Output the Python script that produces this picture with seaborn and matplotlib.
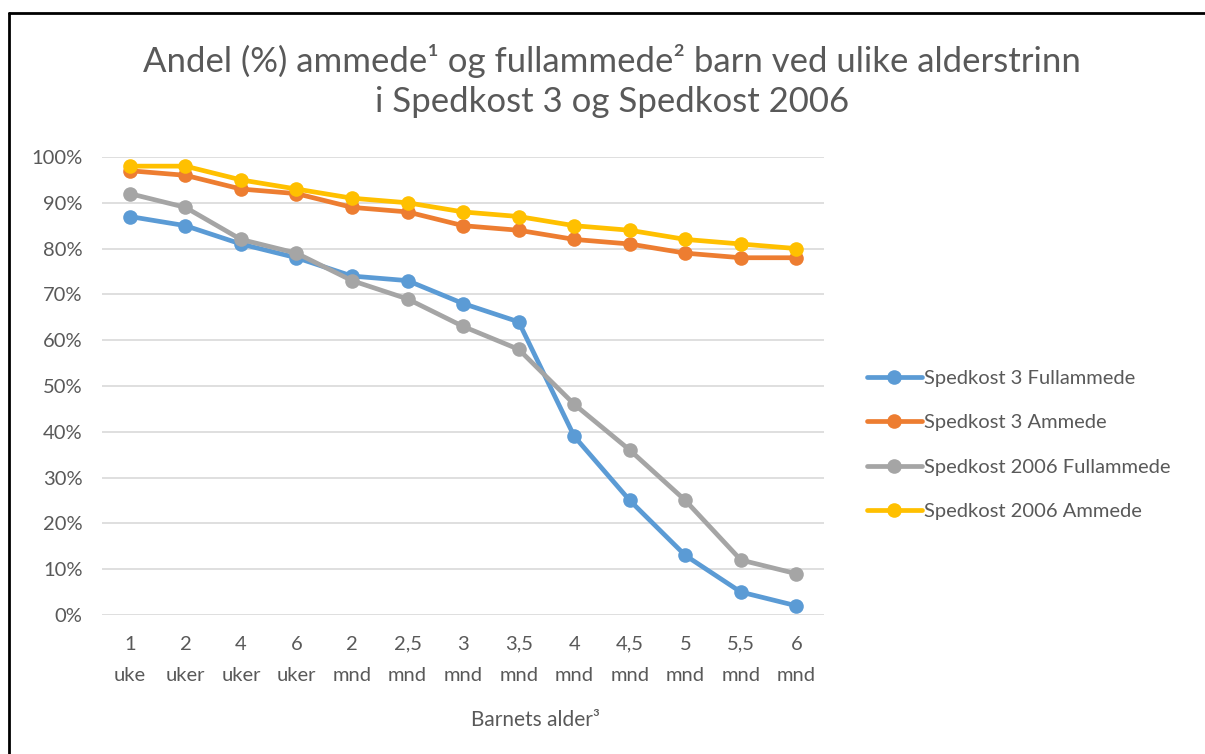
import numpy as np
import pandas as pd
import matplotlib.pyplot as plt
import seaborn as sns
from matplotlib.lines import Line2D


AGE_LABELS = [
    "1\nuke", "2\nuker", "4\nuker", "6\nuker", "2\nmnd", "2,5\nmnd", "3\nmnd",
    "3,5\nmnd", "4\nmnd", "4,5\nmnd", "5\nmnd", "5,5\nmnd", "6\nmnd",
]
SPEDKOST3_FULL = [87, 85, 81, 78, 74, 73, 68, 64, 39, 25, 13, 5, 2]
SPEDKOST3_AMMEDE = [97, 96, 93, 92, 89, 88, 85, 84, 82, 81, 79, 78, 78]
SPEDKOST2006_FULL = [92, 89, 82, 79, 73, 69, 63, 58, 46, 36, 25, 12, 9]
SPEDKOST2006_AMMEDE = [98, 98, 95, 93, 91, 90, 88, 87, 85, 84, 82, 81, 80]

SERIES_NAMES = [
    "Spedkost 3 Fullammede",
    "Spedkost 3 Ammede",
    "Spedkost 2006 Fullammede",
    "Spedkost 2006 Ammede",
]
COLORS = ["#5B9BD5", "#ED7D31", "#A5A5A5", "#FFC000"]
TEXT_COLOR = "#595959"


def build_frame() -> pd.DataFrame:
    values = [SPEDKOST3_FULL, SPEDKOST3_AMMEDE, SPEDKOST2006_FULL, SPEDKOST2006_AMMEDE]
    rows = []
    for name, vals in zip(SERIES_NAMES, values):
        for i, v in enumerate(vals):
            rows.append({"pos": i, "value": v, "series": name})
    return pd.DataFrame(rows)


def main() -> None:
    sns.set_theme(style="white")
    plt.rcParams["font.family"] = ["Lato", "DejaVu Sans"]

    df = build_frame()

    fig = plt.figure(figsize=(12.05, 7.54), dpi=100)
    ax = fig.add_axes([0.0847, 0.1844, 0.5993, 0.6074])

    for name, color in zip(SERIES_NAMES, COLORS):
        sub = df[df["series"] == name]
        sns.lineplot(
            data=sub, x="pos", y="value", ax=ax, color=color, label=name,
            linewidth=3.4, marker="o", markersize=10.5, markeredgewidth=0,
        )

    ax.set_xlim(-0.5, len(AGE_LABELS) - 0.5)
    ax.set_ylim(0, 100)
    ax.set_yticks(np.arange(0, 101, 10))
    ax.set_yticklabels([f"{t}%" for t in range(0, 101, 10)])
    ax.set_xticks(np.arange(len(AGE_LABELS)))
    ax.set_xticklabels(AGE_LABELS, linespacing=2.0)
    ax.tick_params(axis="both", length=0, labelsize=14.5, colors=TEXT_COLOR)
    ax.tick_params(axis="x", pad=15)
    ax.tick_params(axis="y", pad=14)
    ax.yaxis.grid(True, color="#D9D9D9", linewidth=1.2)
    ax.set_axisbelow(True)
    for spine in ax.spines.values():
        spine.set_visible(False)

    ax.set_xlabel("Barnets alder³", fontsize=15, color=TEXT_COLOR)
    ax.xaxis.set_label_coords(0.6, -0.208)
    ax.set_ylabel("")

    fig.text(
        0.508, 0.893,
        "Andel (%) ammede¹ og fullammede² barn ved ulike alderstrinn\ni Spedkost 3 og Spedkost 2006",
        ha="center", va="center", fontsize=25, color=TEXT_COLOR, linespacing=1.3,
    )

    ax.legend(
        loc="center left", bbox_to_anchor=(0.713, 0.41), bbox_transform=fig.transFigure,
        frameon=False, fontsize=14.5, labelcolor=TEXT_COLOR, handlelength=2.7,
        handletextpad=0.1, labelspacing=1.35, borderaxespad=0,
    )

    # outer frame line, top and left only as in the source crop
    fig.add_artist(Line2D([0.0075, 0.0075], [0.0, 0.983], transform=fig.transFigure, color="black", linewidth=2))
    fig.add_artist(Line2D([0.0075, 1.0], [0.983, 0.983], transform=fig.transFigure, color="black", linewidth=2))

    fig.savefig("out.png", dpi=100)
    plt.close(fig)


if __name__ == "__main__":
    main()
